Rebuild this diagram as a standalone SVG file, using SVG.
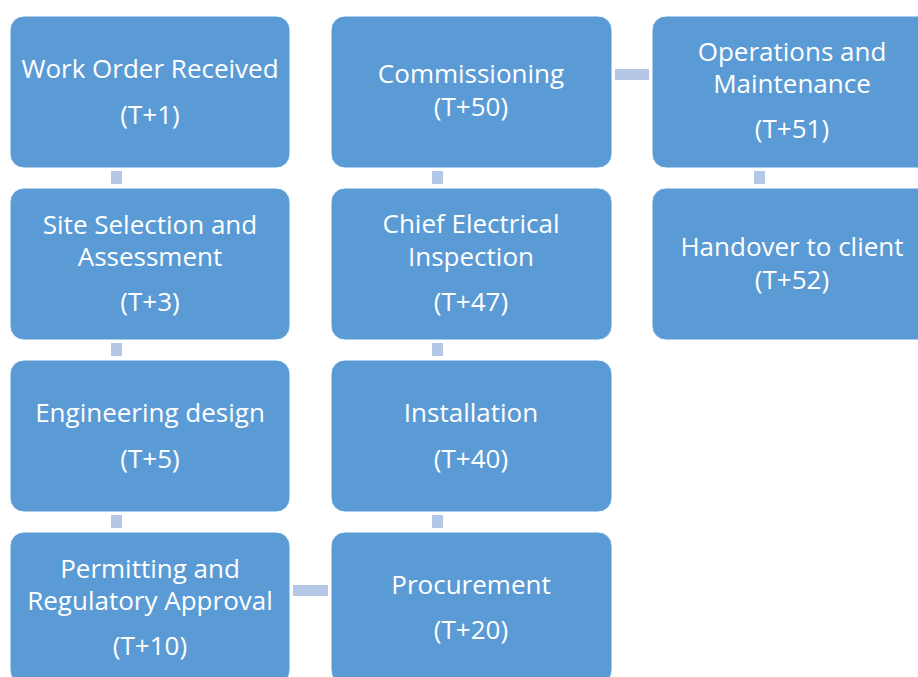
<svg xmlns="http://www.w3.org/2000/svg" width="918" height="677" viewBox="0 0 918 677">
<style>
.box{fill:#5b9bd5;stroke:#ffffff;stroke-width:1}
.con{fill:#b4c7e7}
text{font-family:"Open Sans","Liberation Sans",sans-serif;font-size:26px;fill:#ffffff;text-anchor:middle}
</style>
<rect width="918" height="677" fill="#ffffff"/>
<g id="connectors">
<rect class="con" x="111" y="171" width="11" height="13"/>
<rect class="con" x="111" y="343" width="11" height="13"/>
<rect class="con" x="111" y="515" width="11" height="13"/>
<rect class="con" x="293" y="585" width="35" height="11"/>
<rect class="con" x="432" y="515" width="11" height="13"/>
<rect class="con" x="432" y="343" width="11" height="13"/>
<rect class="con" x="432" y="171" width="11" height="13"/>
<rect class="con" x="615" y="69" width="34" height="11"/>
<rect class="con" x="754" y="171" width="11" height="13"/>
</g>
<g id="n1"><rect class="box" x="10" y="16" width="280" height="152" rx="14"/>
<text x="150" y="78">Work Order Received</text><text x="150" y="124">(T+1)</text></g>
<g id="n2"><rect class="box" x="10" y="188" width="280" height="152" rx="14"/>
<text x="150" y="234">Site Selection and</text><text x="150" y="266">Assessment</text><text x="150" y="311">(T+3)</text></g>
<g id="n3"><rect class="box" x="10" y="360" width="280" height="152" rx="14"/>
<text x="150" y="422">Engineering design</text><text x="150" y="468">(T+5)</text></g>
<g id="n4"><rect class="box" x="10" y="532" width="280" height="152" rx="14"/>
<text x="150" y="578">Permitting and</text><text x="150" y="610">Regulatory Approval</text><text x="150" y="655">(T+10)</text></g>
<g id="n5"><rect class="box" x="331" y="532" width="281" height="152" rx="14"/>
<text x="471" y="594">Procurement</text><text x="471" y="639">(T+20)</text></g>
<g id="n6"><rect class="box" x="331" y="360" width="281" height="152" rx="14"/>
<text x="471" y="422">Installation</text><text x="471" y="468">(T+40)</text></g>
<g id="n7"><rect class="box" x="331" y="188" width="281" height="152" rx="14"/>
<text x="471" y="233">Chief Electrical</text><text x="471" y="266">Inspection</text><text x="471" y="311">(T+47)</text></g>
<g id="n8"><rect class="box" x="331" y="16" width="281" height="152" rx="14"/>
<text x="471" y="83">Commissioning</text><text x="471" y="116">(T+50)</text></g>
<g id="n9"><rect class="box" x="652" y="16" width="280" height="152" rx="14"/>
<text x="792" y="61">Operations and</text><text x="792" y="93">Maintenance</text><text x="792" y="138">(T+51)</text></g>
<g id="n10"><rect class="box" x="652" y="188" width="280" height="152" rx="14"/>
<text x="792" y="256">Handover to client</text><text x="792" y="289">(T+52)</text></g>
</svg>
